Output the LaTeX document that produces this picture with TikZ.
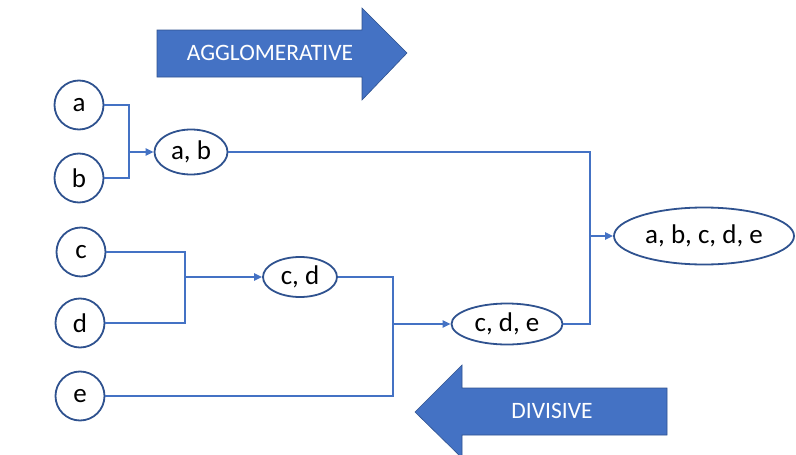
\documentclass[tikz,border=0pt]{standalone}
\usepackage{fontspec}
\setmainfont{Carlito}
\usetikzlibrary{arrows.meta,shapes.geometric}
\definecolor{offblue}{HTML}{4472C4}
\definecolor{rimblue}{HTML}{2F528F}
\begin{document}
\begin{tikzpicture}[x=1pt,y=-1pt,
  leaf/.style={circle,draw=rimblue,line width=1.8pt,fill=white,minimum size=49pt,inner sep=0pt,font=\fontsize{27}{30}\selectfont},
  cluster/.style={ellipse,draw=rimblue,line width=1.8pt,fill=white,inner sep=0pt,font=\fontsize{27}{30}\selectfont},
  link/.style={draw=offblue,line width=2pt},
  linkarrow/.style={link,-{Triangle[length=8pt,width=7pt]}},
  bigarrow/.style={fill=offblue,draw=rimblue,line width=0.6pt},
  arrowtext/.style={text=white,font=\fontsize{23.5}{26}\selectfont}
]
\useasboundingbox (0,0) rectangle (796,455);

% direction arrows
\path[bigarrow] (157,30) -- (362,30) -- (362,8) -- (407,53) -- (362,100) -- (362,77) -- (157,77) -- cycle;
\node[arrowtext] (agg) at (270,53) {AGGLOMERATIVE};
\path[bigarrow] (667,388) -- (462,388) -- (462,365) -- (415,412) -- (462,458) -- (462,435) -- (667,435) -- cycle;
\node[arrowtext] (div) at (552,411) {DIVISIVE};

% leaves
\node[leaf] (a) at (79,105) {a};
\node[leaf] (b) at (79,178) {b};
\node[leaf] (c) at (81,252) {c};
\node[leaf] (d) at (80,323) {d};
\node[leaf] (e) at (80,396) {e};

% clusters
\node[cluster,minimum width=73pt,minimum height=45pt] (ab) at (191,152) {a, b};
\node[cluster,minimum width=74pt,minimum height=40pt] (cd) at (300,277) {c, d};
\node[cluster,minimum width=111pt,minimum height=41pt] (cde) at (507,324) {c, d, e};
\node[cluster,minimum width=180pt,minimum height=57pt] (abcde) at (704,236) {a, b, c, d, e};

% junction points of the tree
\coordinate (jab) at (129,152);
\coordinate (jcd) at (185,277);
\coordinate (jcde) at (393,324);
\coordinate (jall) at (590,236);

% connectors
\draw[link] (a.east) -| (jab);
\draw[link] (b.east) -| (jab);
\draw[linkarrow] (jab) -- (ab.west);

\draw[link] (c.east) -| (jcd);
\draw[link] (d.east) -| (jcd);
\draw[linkarrow] (jcd) -- (cd.west);

\draw[link] (cd.east) -| (jcde);
\draw[link] (e.east) -| (jcde);
\draw[linkarrow] (jcde) -- (cde.west);

\draw[link] (ab.east) -| (jall);
\draw[link] (cde.east) -| (jall);
\draw[linkarrow] (jall) -- (abcde.west);
\end{tikzpicture}
\end{document}
